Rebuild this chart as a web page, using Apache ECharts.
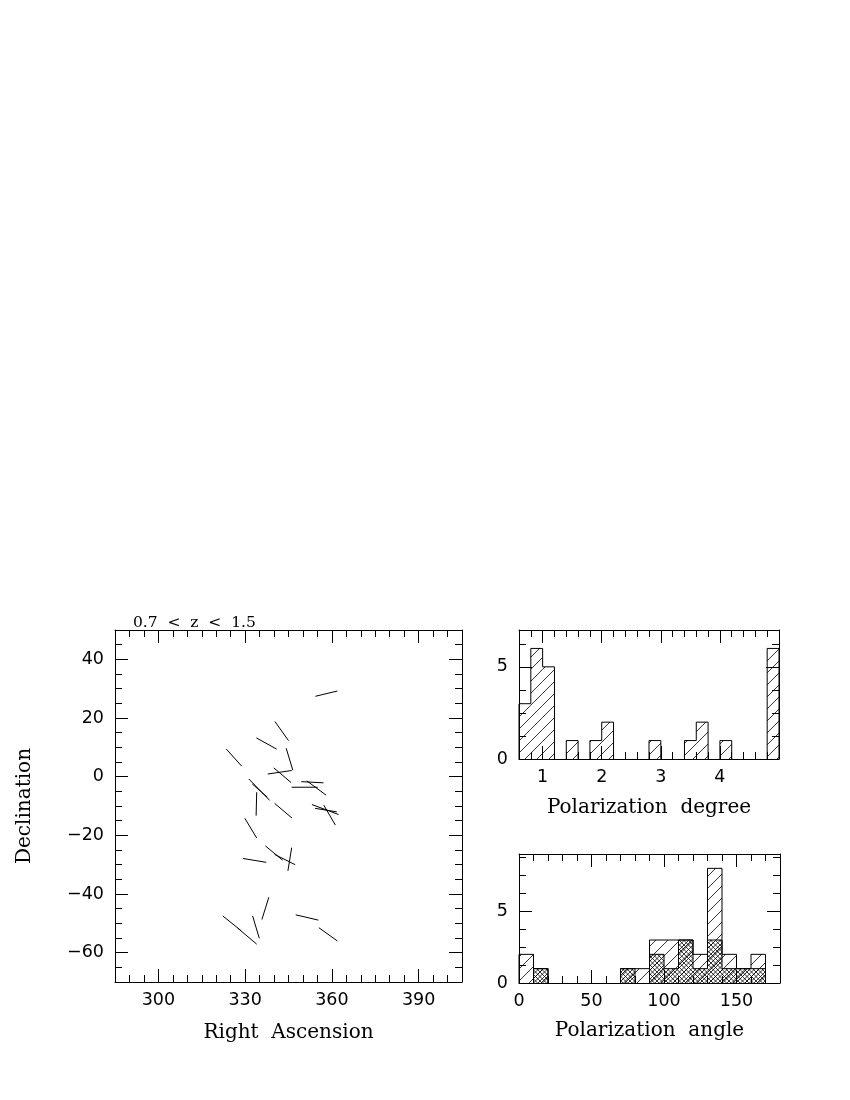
<!DOCTYPE html>
<html>
<head>
<meta charset="utf-8">
<script src="https://cdn.jsdelivr.net/npm/echarts@6/dist/echarts.min.js"></script>
<style>
  html, body { margin: 0; padding: 0; background: #fff; }
  #chart { width: 850px; height: 1100px; }
</style>
</head>
<body>
<div id="chart"></div>
<script>
// polarization vectors on the sky: [ra1, dec1, ra2, dec2]
const vectors = [
  [354.3, 27.4, 361.9, 29.2],
  [340.3, 18.8, 345.0, 12.3],
  [333.9, 13.2, 340.9, 9.4],
  [323.5, 9.4, 328.8, 3.6],
  [344.2, 9.7, 346.5, 2.2],
  [337.8, 0.9, 346.1, 2.1],
  [339.9, 3.0, 345.9, -2.0],
  [349.4, -1.7, 357.1, -2.1],
  [346.1, -3.6, 355.1, -3.6],
  [351.3, -1.4, 358.0, -6.3],
  [331.3, -0.8, 338.5, -8.1],
  [332.5, -2.5, 337.7, -7.0],
  [334.0, -5.3, 333.8, -13.3],
  [340.2, -9.1, 346.2, -14.1],
  [353.1, -9.5, 362.3, -12.9],
  [354.2, -10.8, 361.7, -12.0],
  [357.2, -9.7, 361.2, -16.5],
  [329.9, -14.2, 334.0, -20.9],
  [329.3, -27.9, 337.3, -29.2],
  [337.0, -23.6, 343.0, -28.5],
  [340.2, -26.5, 347.3, -30.0],
  [346.1, -24.2, 344.8, -32.1],
  [338.2, -41.1, 335.8, -48.7],
  [322.3, -47.5, 328.6, -52.5],
  [327.4, -51.6, 334.0, -57.1],
  [332.6, -47.5, 334.9, -55.1],
  [347.5, -47.1, 355.3, -48.9],
  [355.5, -51.5, 361.9, -56.0]
]

// polarization degree histogram (bins of 0.2 from 0.6)
const degreeStart = 0.6
const degreeWidth = 0.2
const degreeCounts = [3, 6, 5, 0, 1, 0, 1, 2, 0, 0, 0, 1, 0, 0, 1, 2, 0, 1, 0, 0, 0, 6]

// polarization angle histogram (bins of 10 from 0): all objects and subset
const angleStart = 0
const angleWidth = 10
const angleCounts = [2, 1, 0, 0, 0, 0, 0, 1, 1, 3, 3, 3, 2, 8, 2, 1, 2, 0]
const angleSubCounts = [0, 1, 0, 0, 0, 0, 0, 1, 0, 2, 1, 3, 1, 3, 1, 1, 1, 0]

// tick labels
const raLabels = [300, 330, 360, 390]
const decLabels = [-60, -40, -20, 0, 20, 40]
const degreeLabels = [1, 2, 3, 4]
const angleLabels = [0, 50, 100, 150]
const countLabels = [0, 5]

const numFont = 'DejaVu Sans'
const nameFont = 'DejaVu Serif'

function steps (from, to, step) {
  let out = []
  for (let k = 0; from + k * step <= to + 1e-9; k++) out.push(+(from + k * step).toFixed(4))
  return out
}

function fmt (v) {
  return v < 0 ? '\u2212' + (-v) : String(v)
}

// one box of axes: main axis with labels + minor ticks + mirrored side
function axisBox (dim, gridIndex, min, max, majors, minors, labels, name, nameGap) {
  let pos = dim === 'x' ? ['bottom', 'top'] : ['left', 'right']
  let make = (position, ticks, len, withLine, withLabel) => ({
    type: 'value',
    gridIndex,
    min,
    max,
    position,
    offset: 0,
    axisLine: { show: withLine, onZero: false, lineStyle: { color: '#000', width: 1 } },
    axisTick: { show: true, inside: true, length: len, customValues: ticks, lineStyle: { color: '#000', width: 1 } },
    axisLabel: withLabel ? {
      show: true, customValues: labels, formatter: fmt, color: '#000',
      fontFamily: numFont, fontSize: 17.5, margin: dim === 'x' ? 9 : 11
    } : { show: false },
    splitLine: { show: false },
    name: withLabel ? name : '',
    nameLocation: 'middle',
    nameGap,
    nameTextStyle: { color: '#000', fontFamily: nameFont, fontSize: 20 }
  })
  return [
    make(pos[0], majors, 13, true, true),
    make(pos[0], minors, 7, false, false),
    make(pos[1], majors, 13, true, false),
    make(pos[1], minors, 7, false, false)
  ]
}

// hatch lines inside a rect, anchored to the page so they run on across bins
function hatchLines (x0, x1, yt, yb, dir, s) {
  let out = []
  if (dir > 0) {
    for (let k = Math.ceil((x0 + yt) / s); k * s <= x1 + yb; k++) {
      let c = k * s
      let xa = Math.max(x0, c - yb), xb = Math.min(x1, c - yt)
      if (xb > xa) out.push([xa, c - xa, xb, c - xb])
    }
  } else {
    for (let k = Math.ceil((x0 - yb) / s); k * s <= x1 - yt; k++) {
      let c = k * s
      let xa = Math.max(x0, c + yt), xb = Math.min(x1, c + yb)
      if (xb > xa) out.push([xa, xa - c, xb, xb - c])
    }
  }
  return out
}

function histSeries (axisIndex, start, width, counts, hatches, z) {
  return {
    type: 'custom',
    xAxisIndex: axisIndex,
    yAxisIndex: axisIndex,
    z,
    encode: { x: [0, 1], y: 2 },
    data: counts.map((c, i) => [start + i * width, start + (i + 1) * width, c, i]),
    renderItem: (params, api) => {
      let c = api.value(2), i = api.value(3)
      if (!c) return
      let p0 = api.coord([api.value(0), 0])
      let p1 = api.coord([api.value(1), c])
      let x0 = p0[0], x1 = p1[0], yb = p0[1], yt = p1[1]
      let children = []
      hatches.forEach(h => {
        hatchLines(x0, x1, yt, yb, h.dir, h.gap).forEach(l => {
          children.push({ type: 'line', shape: { x1: l[0], y1: l[1], x2: l[2], y2: l[3] }, style: { stroke: '#000', lineWidth: 0.8 } })
        })
      })
      let edge = (xa, ya, xb, yb2) => ({ type: 'line', shape: { x1: xa, y1: ya, x2: xb, y2: yb2 }, style: { stroke: '#000', lineWidth: 1 } })
      children.push(edge(x0, yt, x1, yt))
      let prev = i > 0 ? counts[i - 1] : 0
      let next = i < counts.length - 1 ? counts[i + 1] : 0
      if (prev < c) children.push(edge(x0, yt, x0, api.coord([api.value(0), prev])[1]))
      if (next < c) children.push(edge(x1, yt, x1, api.coord([api.value(1), next])[1]))
      return { type: 'group', children }
    }
  }
}

let chart = echarts.init(document.getElementById('chart'), null, { renderer: 'canvas' })

let xAxes = [].concat(
  axisBox('x', 0, 285, 405, raLabels, steps(285, 405, 5), raLabels, 'Right  Ascension', 41),
  axisBox('x', 1, 0.6, 5.0, degreeLabels, steps(0.6, 5.0, 0.2), degreeLabels, 'Polarization  degree', 39),
  axisBox('x', 2, 0, 180, angleLabels, steps(0, 180, 10), angleLabels, 'Polarization  angle', 38)
)
let yAxes = [].concat(
  axisBox('y', 0, -70, 50, decLabels, steps(-70, 50, 5), decLabels, 'Declination', 80),
  axisBox('y', 1, 0, 7, countLabels, [1.25, 2.5, 3.75, 6.25], countLabels, '', 30),
  axisBox('y', 2, 0, 9, countLabels, [1.25, 2.5, 3.75, 6.25, 7.5, 8.75], countLabels, '', 30)
)

let option = {
  animation: false,
  backgroundColor: '#fff',
  title: {
    text: '0.7  <  z  <  1.5',
    left: 128,
    top: 610,
    textStyle: { color: '#000', fontFamily: nameFont, fontSize: 15.5, fontWeight: 'normal' }
  },
  grid: [
    { left: 115, top: 630, width: 347, height: 352 },
    { left: 519, top: 630, width: 260, height: 129 },
    { left: 519, top: 854, width: 261, height: 129 }
  ],
  xAxis: xAxes,
  yAxis: yAxes,
  series: [
    {
      type: 'custom',
      xAxisIndex: 0,
      yAxisIndex: 0,
      encode: { x: [0, 2], y: [1, 3] },
      data: vectors,
      renderItem: (params, api) => {
        let a = api.coord([api.value(0), api.value(1)])
        let b = api.coord([api.value(2), api.value(3)])
        return { type: 'line', shape: { x1: a[0], y1: a[1], x2: b[0], y2: b[1] }, style: { stroke: '#000', lineWidth: 1 } }
      }
    },
    histSeries(4, degreeStart, degreeWidth, degreeCounts, [{ dir: 1, gap: 12 }], 2),
    histSeries(8, angleStart, angleWidth, angleCounts, [{ dir: 1, gap: 12 }], 2),
    histSeries(8, angleStart, angleWidth, angleSubCounts, [{ dir: 1, gap: 4.5 }, { dir: -1, gap: 4.5 }], 3)
  ]
}

chart.setOption(option)
</script>
</body>
</html>
